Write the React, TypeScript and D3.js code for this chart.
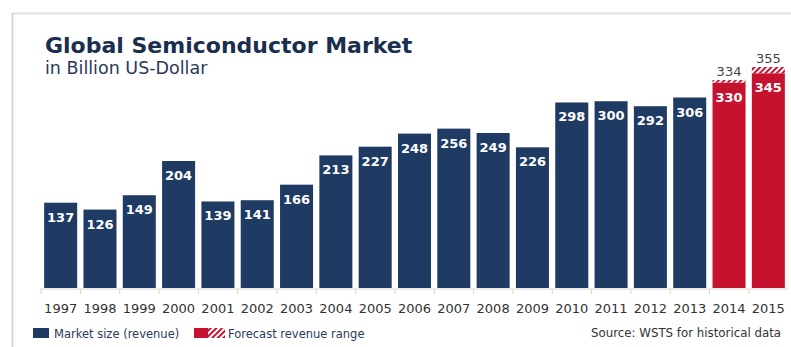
import React from "react";
import * as d3 from "d3";

const years = ["1997","1998","1999","2000","2001","2002","2003","2004","2005","2006","2007","2008","2009","2010","2011","2012","2013","2014","2015"];
const values = [137,126,149,204,139,141,166,213,227,248,256,249,226,298,300,292,306,330,345];
const forecastYears = ["2014","2015"];
const forecastHigh = [334,355];

const W = 791, H = 347;
const NAVY = "#1f3b63";
const RED = "#c4122f";
const FONT = "'DejaVu Sans', Verdana, sans-serif";

export default function App() {
  const x = d3.scaleBand<string>().domain(years).range([41, 788]).paddingInner(0.16).paddingOuter(0.08);
  const y = d3.scaleLinear().domain([0, 355]).range([288, 67]);
  const bw = x.bandwidth();
  return (
    <svg width={W} height={H} style={{ position: "absolute", left: 0, top: 0, fontFamily: FONT }}>
      <defs>
        <pattern id="hatch" width="4" height="4" patternUnits="userSpaceOnUse" patternTransform="rotate(45)">
          <rect width="4" height="4" fill="#fff" />
          <rect width="2" height="4" fill={RED} />
        </pattern>
      </defs>
      <rect x={0} y={0} width={W} height={H} fill="#fff" />
      <line x1={12} x2={W} y1={13.5} y2={13.5} stroke="#e2e2e2" strokeWidth={2} />
      <line x1={12.5} x2={12.5} y1={13} y2={H} stroke="#d6d6d6" strokeWidth={2} />
      <text x={45} y={53} fontSize={22} fontWeight="bold" fill="#1a2e4e">Global Semiconductor Market</text>
      <text x={45} y={74} fontSize={17.5} fill="#2a3a55">in Billion US-Dollar</text>
      {years.map((yr, i) => {
        const isF = forecastYears.includes(yr);
        const v = values[i];
        const x0 = x(yr)!;
        return (
          <g key={yr}>
            <rect x={x0} y={y(v)} width={bw} height={y(0) - y(v)} fill={isF ? RED : NAVY} />
            <text x={x0 + bw / 2} y={y(v) + 19} textAnchor="middle" fontSize={13} fontWeight="bold" fill="#fff">{v}</text>
            <text x={x0 + bw / 2} y={313} textAnchor="middle" fontSize={13} fill="#333">{yr}</text>
          </g>
        );
      })}
      {forecastYears.map((yr, i) => {
        const v = values[years.indexOf(yr)];
        const hi = forecastHigh[i];
        const x0 = x(yr)!;
        return (
          <g key={"f" + yr}>
            <rect x={x0} y={y(hi)} width={bw} height={y(v) - y(hi)} fill="url(#hatch)" />
            <text x={x0 + bw / 2} y={y(hi) - 4} textAnchor="middle" fontSize={13} fill="#444">{hi}</text>
          </g>
        );
      })}
      <line x1={40} x2={788} y1={289} y2={289} stroke="#d8d8d8" strokeWidth={1} />
      {years.map((yr) => (
        <line key={"t" + yr} x1={x(yr)! - 3} x2={x(yr)! - 3} y1={289} y2={294} stroke="#e6d6a8" strokeWidth={1} />
      ))}
      <rect x={33} y={328} width={16} height={10} fill={NAVY} />
      <text x={54} y={338} fontSize={11.5} fill="#2a3a5a">Market size (revenue)</text>
      <rect x={194} y={328} width={14} height={10} fill={RED} />
      <rect x={208} y={328} width={17} height={10} fill="url(#hatch)" />
      <text x={228} y={338} fontSize={11.5} fill="#2a3a5a">Forecast revenue range</text>
      <text x={781} y={337} textAnchor="end" fontSize={11.8} fill="#333">Source: WSTS for historical data</text>
    </svg>
  );
}
